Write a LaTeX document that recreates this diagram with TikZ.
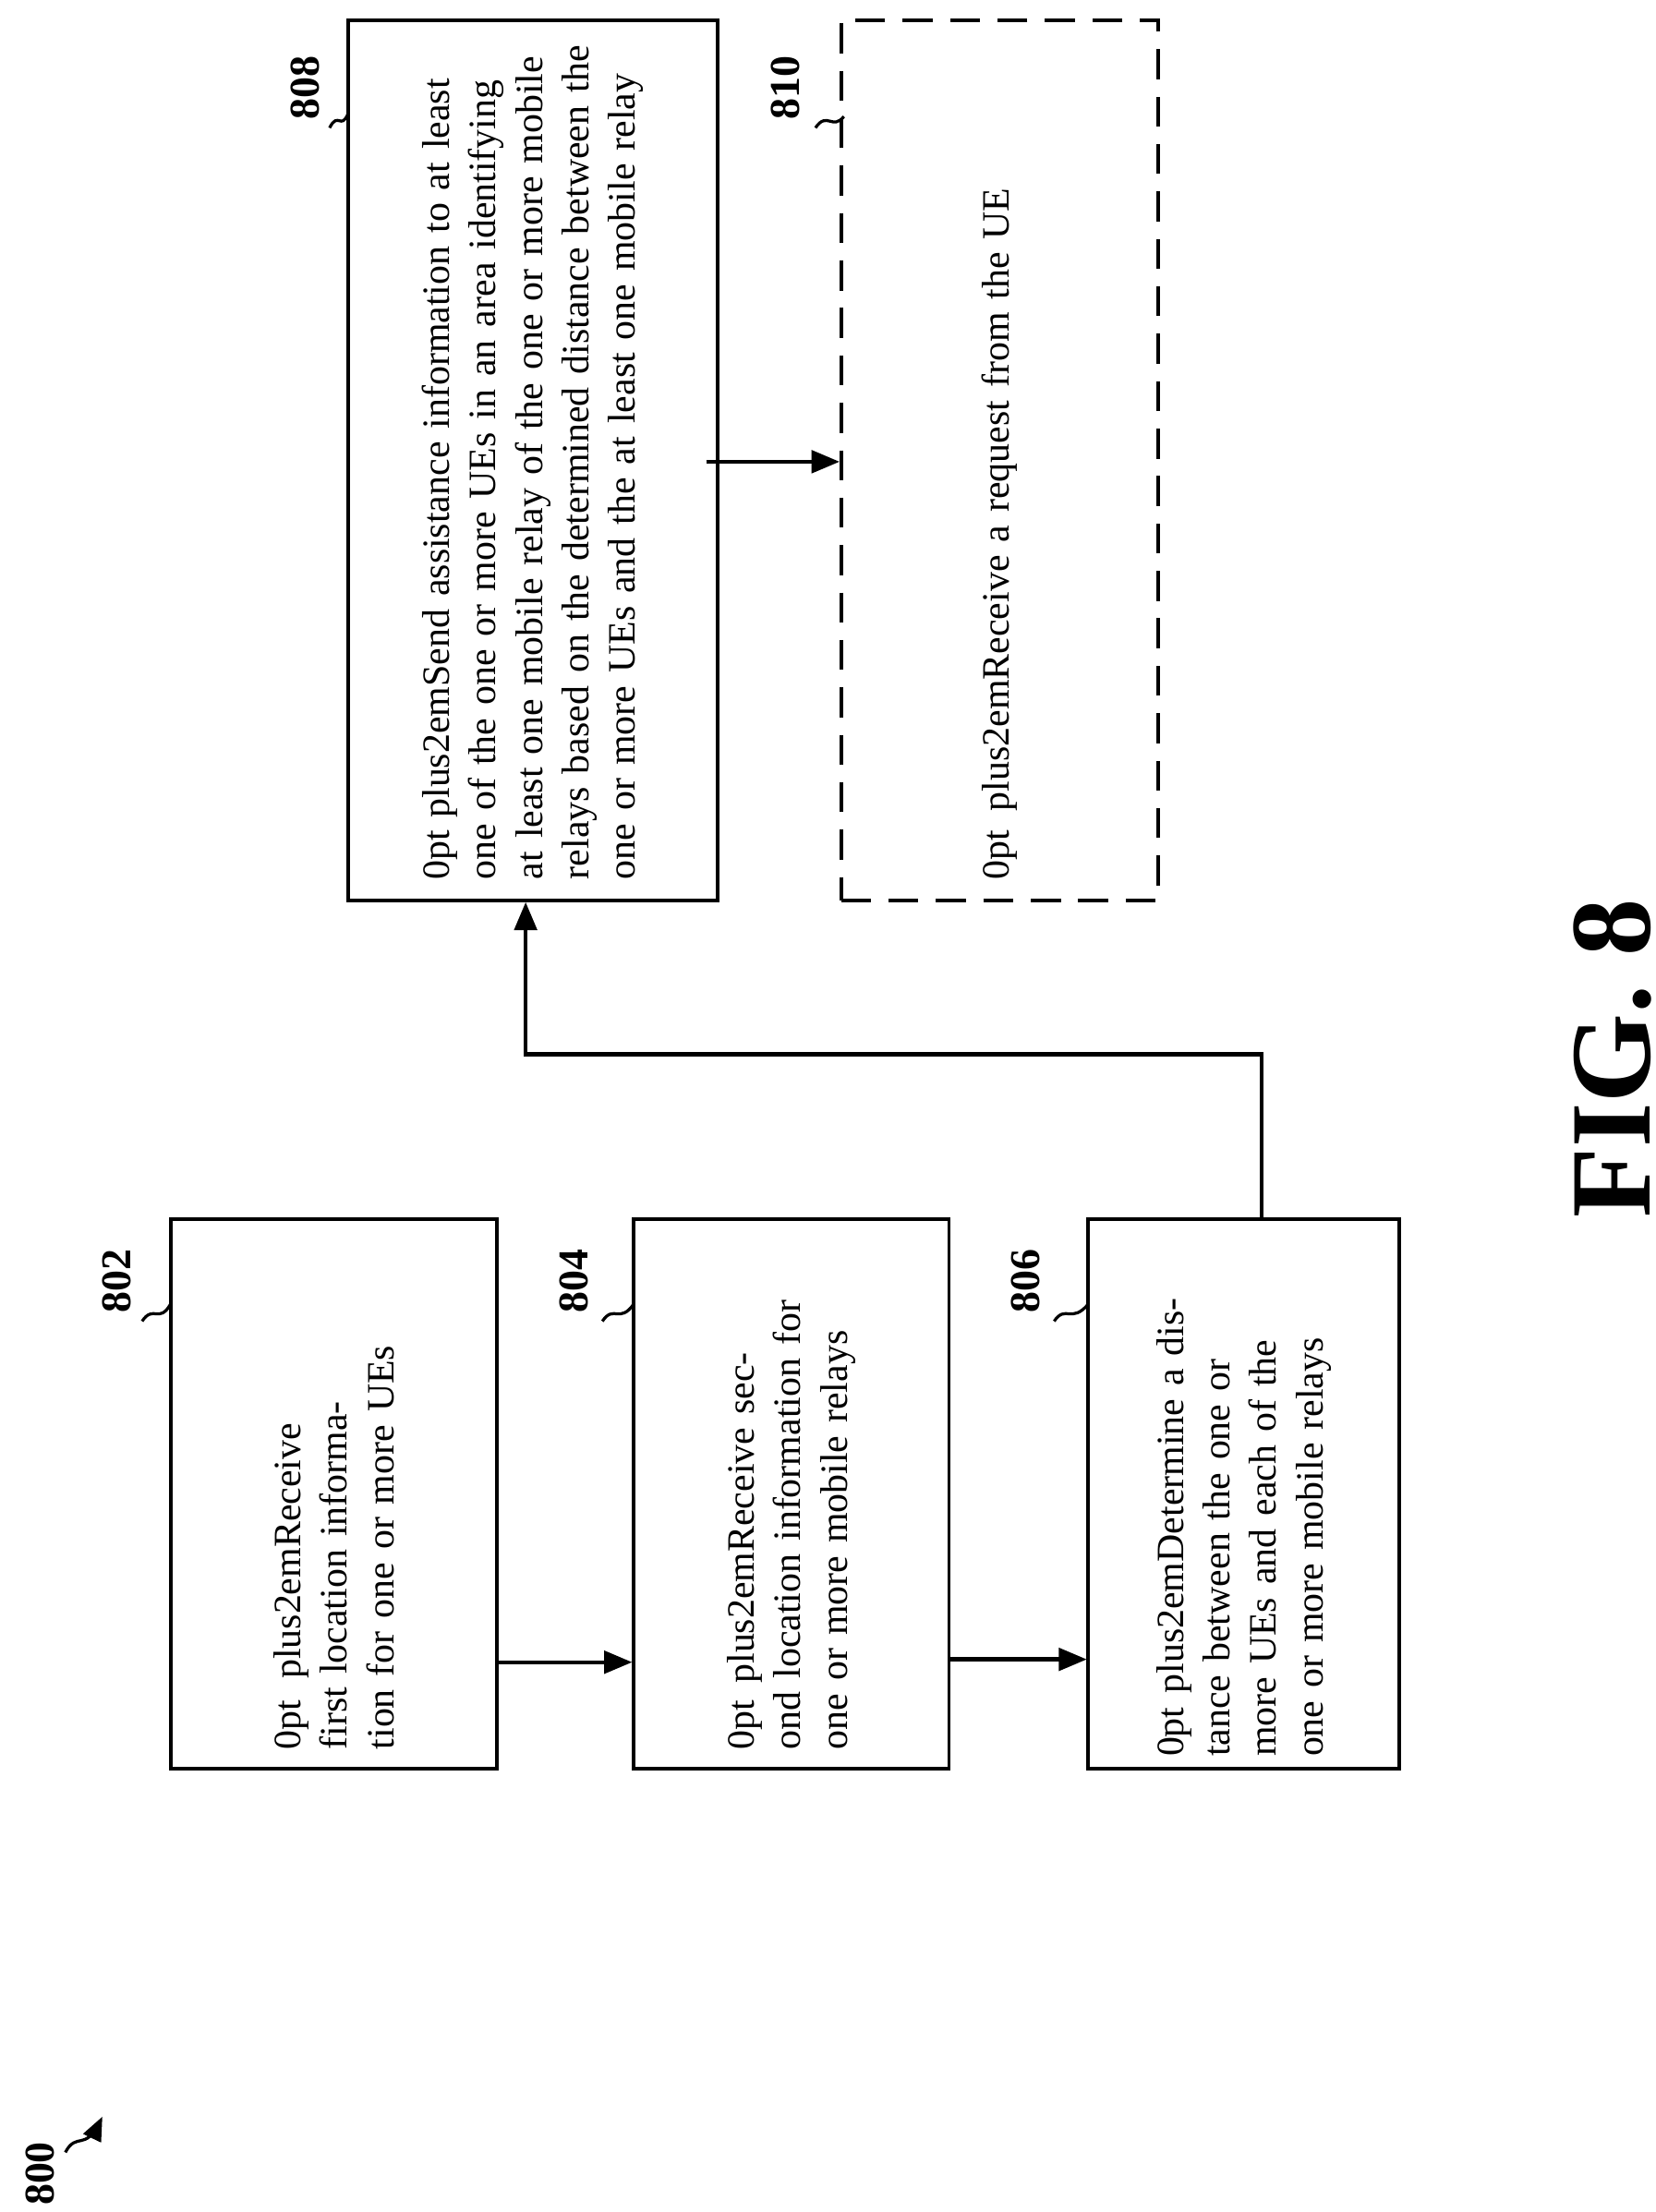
\documentclass[tikz,border=0pt]{standalone}
\usepackage{fontspec}
\setmainfont{Liberation Serif}
\usetikzlibrary{arrows,positioning}

\begin{document}
\begin{tikzpicture}[->,>=triangle 45,line width=1.6pt,x=0.02cm,y=-0.02cm,
  block/.style={draw,line width=1.4pt,rectangle,inner sep=0pt},
  opt/.style={block,dash pattern=on 12pt off 7pt},
  txt/.style={rotate=90,align=center,font=\fontsize{15.5}{18.6}\selectfont\hyphenpenalty=10000},
  num/.style={rotate=90,font=\fontsize{17}{20}\selectfont\bfseries},
  squig/.style={-,line width=1.2pt}]

    \useasboundingbox (0,0) rectangle (1165,1557);

    % The boxes
    \node [block,minimum width=4.6cm,minimum height=7.74cm] at (235,1051.5) (802) {};
    \node [block,minimum width=4.44cm,minimum height=7.74cm] at (557,1051.5) (804) {};
    \node [block,minimum width=4.38cm,minimum height=7.74cm] at (875.5,1051.5) (806) {};
    \node [block,minimum width=5.2cm,minimum height=12.4cm] at (375,324) (808) {};
    \node [opt,minimum width=4.46cm,minimum height=12.4cm] at (703.5,324) (810) {};

    % The texts
    \node [txt,text width=7.2cm] at (802) {Receive first location information for one or more UEs};
    \node [txt,text width=7.2cm] at (804) {Receive second location information for one or more mobile relays};
    \node [txt,text width=7.4cm] at (806) {Determine a distance between the one or more UEs and each of the one or more mobile relays};
    \node [txt,text width=11.8cm] at (808) {Send assistance information to at least one of the one or more UEs in an area identifying at least one mobile relay of the one or more mobile relays based on the determined distance between the one or more UEs and the at least one mobile relay};
    \node [txt,text width=11.8cm] at (810) {Receive a request from the UE};

    % Labels
    \node [num] at (82,902) (l802) {802};
    \node [num] at (404,902) (l804) {804};
    \node [num] at (722,902) (l806) {806};
    \node [num] at (215,62) (l808) {808};
    \node [num] at (553,62) (l810) {810};
    \node [num] at (28,1530) (l800) {800};
    \node [rotate=90,font=\fontsize{46}{50}\selectfont\bfseries] at (1135,745) (fig) {FIG. 8};

    \draw [squig] (100,930) .. controls (108,918) and (112,932) .. (120,918);
    \draw [squig] (424,930) .. controls (432,918) and (436,932) .. (446,918);
    \draw [squig] (742,930) .. controls (750,918) and (754,932) .. (766,918);
    \draw [squig] (232,90) .. controls (238,78) and (240,92) .. (245,80);
    \draw [squig] (574,90) .. controls (582,78) and (586,92) .. (594,82);
    \draw [->,line width=1.2pt] (46,1515) .. controls (54,1500) and (60,1515) .. (72,1490);

    % Connectors
    \draw (802.east |- 0,1170) -- (804.west |- 0,1170);
    \draw (804.east |- 0,1168) -- (806.west |- 0,1168);
    \draw (806.north -| 888,0) |- (370,742) -- (808.south -| 370,0);
    \draw (497,325) -- (810.west |- 0,325);
\end{tikzpicture}
\end{document}
